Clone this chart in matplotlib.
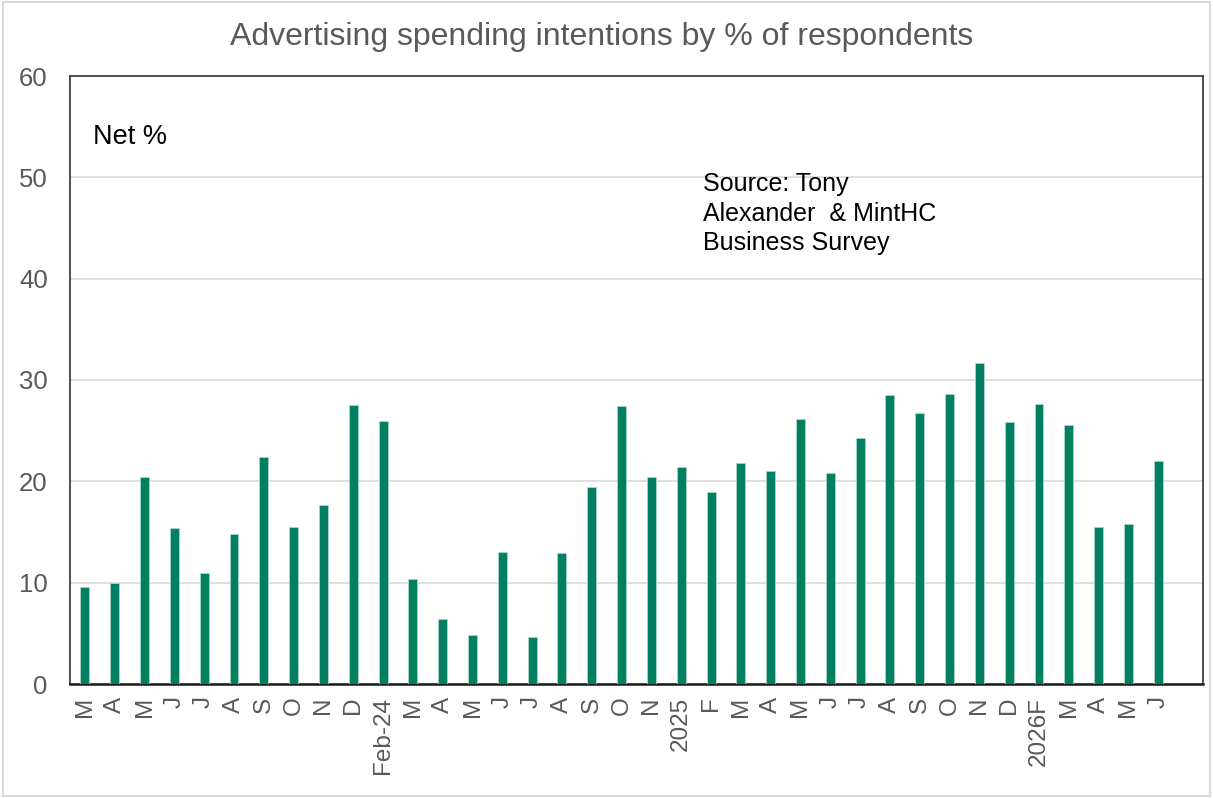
import matplotlib
matplotlib.use("Agg")
import matplotlib.pyplot as plt
from matplotlib.patches import Rectangle

plt.rcParams['font.family'] = ['Liberation Sans', 'DejaVu Sans']

months = ["M", "A", "M", "J", "J", "A", "S", "O", "N", "D", "Feb-24",
          "M", "A", "M", "J", "J", "A", "S", "O", "N", "2025",
          "F", "M", "A", "M", "J", "J", "A", "S", "O", "N", "D", "2026F",
          "M", "A", "M", "J"]
net_pct = [9.6, 10.0, 20.4, 15.4, 11.0, 14.8, 22.4, 15.5, 17.7, 27.5, 26.0,
           10.4, 6.4, 4.8, 13.0, 4.6, 12.9, 19.4, 27.4, 20.4, 21.4,
           18.9, 21.8, 21.0, 26.2, 20.8, 24.3, 28.5, 26.7, 28.6, 31.7, 25.9, 27.6,
           25.6, 15.5, 15.8, 22.0]
y_ticks = [0, 10, 20, 30, 40, 50, 60]

grey = "#595959"
green = "#007F62"

fig = plt.figure(figsize=(12.13, 7.98), dpi=100)
ax = fig.add_axes([70 / 1213, 1 - 684 / 798, (1203 - 70) / 1213, (684 - 76) / 798])

x = list(range(len(net_pct)))
ax.bar(x, net_pct, width=0.3, color=green, edgecolor="#a8d8c8", linewidth=0.6, zorder=3)

ax.set_xlim(-0.5, len(net_pct) + 0.5)
ax.set_ylim(0, 60)
ax.set_yticks(y_ticks)
ax.yaxis.grid(True, color="#d9d9d9", linewidth=1.2, zorder=0)
ax.set_axisbelow(True)

ax.set_xticks(x)
ax.set_xticklabels(months, rotation=90, fontsize=17.5, color=grey, va="top", ha="center")
ax.tick_params(axis="x", length=0, pad=9)
ax.tick_params(axis="y", length=0, pad=16, labelsize=18.5, labelcolor=grey)

for side in ["left", "right", "top", "bottom"]:
    ax.spines[side].set_color("#404040")
    ax.spines[side].set_linewidth(1.3)
ax.spines["bottom"].set_color("#1a1a1a")
ax.spines["bottom"].set_linewidth(1.8)

fig.text(602 / 1213, 1 - 37 / 798, "Advertising spending intentions by % of respondents",
         ha="center", va="center", fontsize=23, color=grey)

ax.text(93 / 1213, 1 - 137 / 798, "Net %", transform=fig.transFigure,
        ha="left", va="center", fontsize=19.5, color="black")
ax.text(703 / 1213, 1 - 172 / 798, "Source: Tony\nAlexander  & MintHC\nBusiness Survey",
        transform=fig.transFigure, ha="left", va="top", fontsize=18,
        color="black", linespacing=1.3)

fig.patches.append(Rectangle((3 / 1213, 2 / 798), 1 - 6 / 1213, 1 - 4 / 798,
                             transform=fig.transFigure, fill=False,
                             edgecolor="#d9d9d9", linewidth=1.5))

fig.savefig("out.png", dpi=100, facecolor="white")
